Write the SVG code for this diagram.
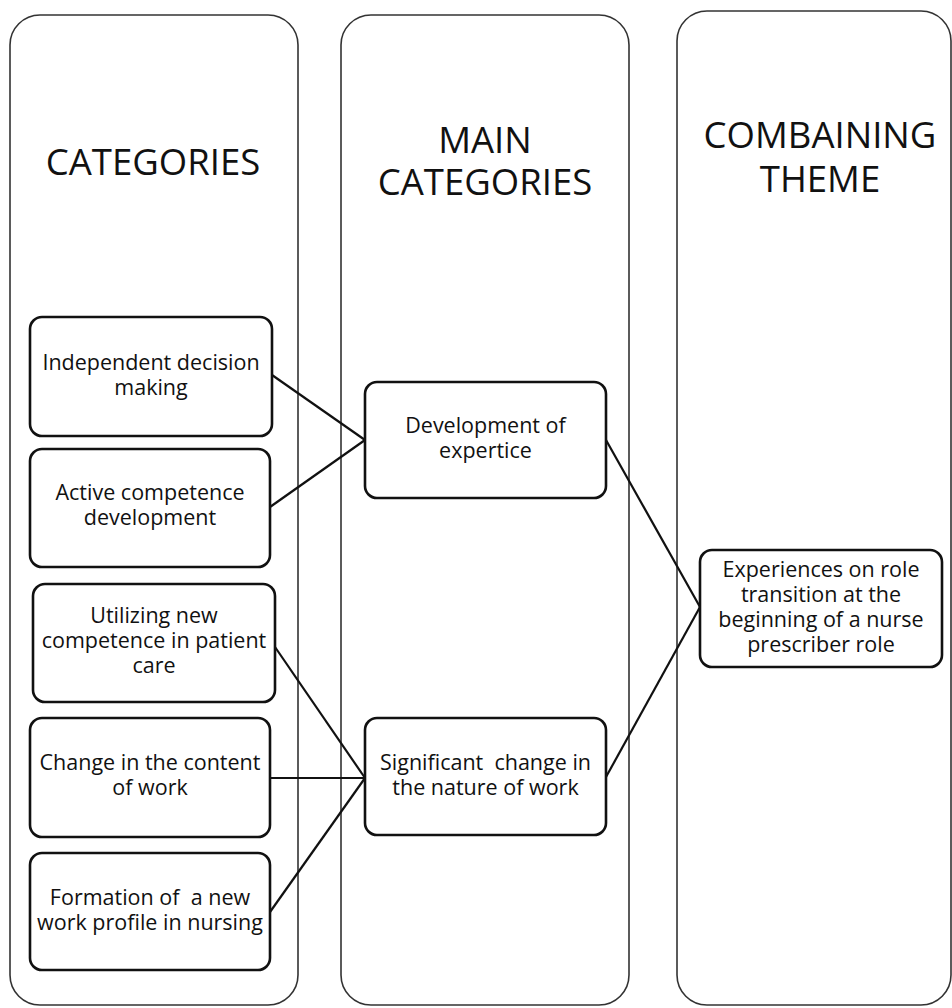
<svg xmlns="http://www.w3.org/2000/svg" width="952" height="1008" viewBox="0 0 952 1008">
<style>
.col{fill:#fff;stroke:#333;stroke-width:1.6}
.box{fill:#fff;stroke:#111;stroke-width:2.6}
.hd{font-family:"Open Sans","Liberation Sans",sans-serif;font-size:36.5px;fill:#111;text-anchor:middle}
.tx{font-family:"Open Sans","Liberation Sans",sans-serif;font-size:21.5px;fill:#111;text-anchor:middle}
.ln{stroke:#111;stroke-width:2.2;fill:none}
</style>
<rect width="952" height="1008" fill="#fff"/>
<g id="col-categories">
<rect class="col" x="10" y="15" width="288" height="990" rx="30"/>
<text class="hd" x="153" y="175">CATEGORIES</text>
</g>
<g id="col-main">
<rect class="col" x="341" y="15" width="288" height="990" rx="30"/>
<text class="hd" x="485" y="153">MAIN</text>
<text class="hd" x="485" y="195">CATEGORIES</text>
</g>
<g id="col-theme">
<rect class="col" x="677" y="11" width="274" height="994" rx="30"/>
<text class="hd" x="820" y="148">COMBAINING</text>
<text class="hd" x="820" y="192">THEME</text>
</g>
<g id="connectors">
<line class="ln" x1="272" y1="375" x2="365" y2="440"/>
<line class="ln" x1="270" y1="507" x2="365" y2="440"/>
<line class="ln" x1="275" y1="647" x2="365" y2="778"/>
<line class="ln" x1="270" y1="778" x2="365" y2="778"/>
<line class="ln" x1="270" y1="912" x2="365" y2="778"/>
<line class="ln" x1="606" y1="440" x2="700" y2="607"/>
<line class="ln" x1="606" y1="777" x2="700" y2="607"/>
</g>
<g id="n-independent">
<rect class="box" x="30" y="317" width="242" height="119" rx="12"/>
<text class="tx" x="151" y="370">Independent decision</text>
<text class="tx" x="151" y="395">making</text>
</g>
<g id="n-active">
<rect class="box" x="30" y="449" width="240" height="118" rx="12"/>
<text class="tx" x="150" y="500">Active competence</text>
<text class="tx" x="150" y="525">development</text>
</g>
<g id="n-utilizing">
<rect class="box" x="33" y="584" width="242" height="118" rx="12"/>
<text class="tx" x="154" y="623">Utilizing new</text>
<text class="tx" x="154" y="648">competence in patient</text>
<text class="tx" x="154" y="673">care</text>
</g>
<g id="n-change">
<rect class="box" x="30" y="718" width="240" height="119" rx="12"/>
<text class="tx" x="150" y="770">Change in the content</text>
<text class="tx" x="150" y="795">of work</text>
</g>
<g id="n-formation">
<rect class="box" x="30" y="853" width="240" height="117" rx="12"/>
<text class="tx" x="150" y="905" xml:space="preserve">Formation of  a new</text>
<text class="tx" x="150" y="930">work profile in nursing</text>
</g>
<g id="n-development">
<rect class="box" x="365" y="382" width="241" height="116" rx="12"/>
<text class="tx" x="485.5" y="433">Development of</text>
<text class="tx" x="485.5" y="458">expertice</text>
</g>
<g id="n-significant">
<rect class="box" x="365" y="718" width="241" height="117" rx="12"/>
<text class="tx" x="485.5" y="770" xml:space="preserve">Significant  change in</text>
<text class="tx" x="485.5" y="795">the nature of work</text>
</g>
<g id="n-theme">
<rect class="box" x="700" y="550" width="242" height="117" rx="12"/>
<text class="tx" x="821" y="577">Experiences on role</text>
<text class="tx" x="821" y="602">transition at the</text>
<text class="tx" x="821" y="627">beginning of a nurse</text>
<text class="tx" x="821" y="652">prescriber role</text>
</g>
</svg>
